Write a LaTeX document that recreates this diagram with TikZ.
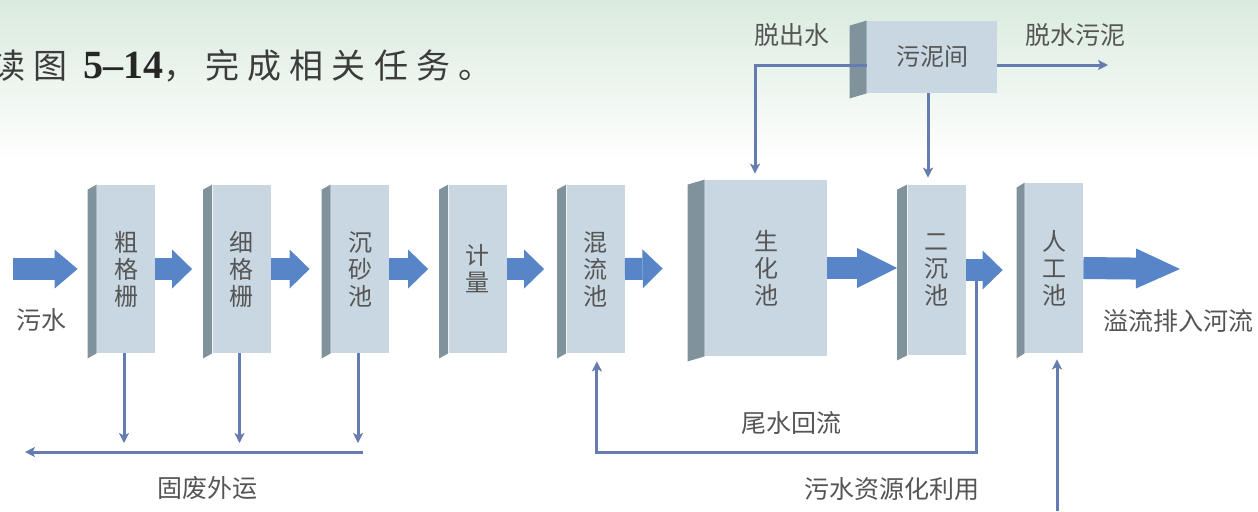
\documentclass[tikz,border=0pt]{standalone}
\usepackage{fontspec}
\usepackage{xcolor}
\usetikzlibrary{arrows.meta,positioning,calc}
\newfontfamily\cjk{Noto Sans CJK SC}
\newfontfamily\cjktitle[LetterSpace=24]{Noto Sans CJK SC}
\newfontfamily\numfont{Liberation Serif}
\definecolor{bgtop}{RGB}{218,235,222}
\definecolor{frontc}{RGB}{200,215,225}
\definecolor{sidec}{RGB}{128,146,156}
\definecolor{arrowc}{RGB}{88,133,200}
\definecolor{linec}{RGB}{100,124,176}
\definecolor{textc}{RGB}{85,85,85}

\begin{document}
\begin{tikzpicture}[
    x=0.5pt, y=-0.5pt,
    slab/.style={rectangle, fill=frontc, inner sep=0pt, minimum width=29pt, minimum height=84pt, align=center, text=textc, font=\cjk\fontsize{12pt}{13.5pt}\selectfont},
    sideface/.style={fill=sidec},
    lbl/.style={inner sep=0pt, text=textc, font=\cjk\fontsize{12.5pt}{14pt}\selectfont},
    flow/.style={draw=linec, line width=1.5pt, -{Stealth[length=5pt,width=5pt,inset=1.2pt]}},
    bigarrow/.style={draw=arrowc, line width=11pt, -{Triangle[length=10pt,width=19.5pt,line width=0pt]}}
]
    \useasboundingbox (0,0) rectangle (1258,511);
    \clip (0,0) rectangle (1258,511);
    \fill[white] (0,0) rectangle (1258,511);
    \shade[top color=bgtop, bottom color=white] (0,0) rectangle (1258,160);

    \node[anchor=west, inner sep=0pt, text={rgb,255:red,60;green,60;blue,60}, font=\cjktitle\fontsize{17pt}{20pt}\selectfont] (title) at (-9,66)
        {读图 {\numfont\bfseries\fontsize{20pt}{20pt}\selectfont\color{black!85}5–14}，完成相关任务。};

    % process units
    \node[slab] (cg)  at (126,269)   {粗\\格\\栅};
    \node[slab] (xg)  at (241.5,269) {细\\格\\栅};
    \node[slab] (csc) at (360,269)   {沉\\砂\\池};
    \node[slab] (jl)  at (477.5,269) {计\\量};
    \node[slab] (hl)  at (595.5,269) {混\\流\\池};
    \node[slab, minimum width=61pt, minimum height=88pt] (sh) at (766,268) {生\\化\\池};
    \node[slab, minimum height=85pt] (ec) at (936.5,270) {二\\沉\\池};
    \node[slab, minimum height=85pt] (rg) at (1054,268) {人\\工\\池};
    \node[slab, minimum width=65pt, minimum height=36pt] (wn) at (932,57) {污泥间};

    \foreach \n/\d in {cg/9,xg/9,csc/9,jl/9,hl/9,sh/17,ec/10,rg/8,wn/17}
        \fill[sideface] (\n.north west) -- ++(-\d,5) -- ([shift={(-\d,5)}]\n.south west) -- (\n.south west) -- cycle;

    \coordinate (in) at (13,269);
    \coordinate (out) at (1180,269);
    \coordinate (sludge) at (1108,65);
    \coordinate (waste) at (25,452);
    \coordinate (ret) at (976,452);
    \coordinate (reuse) at (1057,511);

    % thin connectors
    \draw[flow, shorten >=3pt] ([yshift=-4pt]wn.west) -| ([xshift=-5.5pt]sh.north);
    \draw[flow, shorten >=3.5pt] ([xshift=-2pt]wn.south) -- ([xshift=-2pt]wn.south |- ec.north);
    \draw[flow] ([yshift=-4pt]wn.east) -- (sludge);
    \foreach \n in {cg,xg,csc}
        \draw[flow, shorten >=4.5pt] ([xshift=-1pt]\n.south) -- ([xshift=-1pt]\n.south |- waste);
    \draw[flow] ([xshift=1.5pt]csc.south |- waste) -- (waste);
    \draw[flow, shorten >=4pt] (ec.east -| ret) -- (ret) -| ([xshift=0.7pt]hl.south);
    \draw[flow, shorten >=3pt] (reuse) -- (reuse |- rg.south);

    % main flow
    \draw[bigarrow, -{Triangle[length=11.5pt,width=19.5pt,line width=0pt]}, shorten >=9.5pt] (in) -- (cg.west);
    \draw[bigarrow, shorten >=10pt] (cg.east) -- (xg.west);
    \draw[bigarrow, shorten >=10.5pt] (xg.east) -- (csc.west);
    \draw[bigarrow, shorten >=10pt] (csc.east) -- (jl.west);
    \draw[bigarrow, shorten >=11pt] (jl.east) -- (hl.west);
    \draw[bigarrow, shorten >=21pt] (hl.east) -- (sh.west);
    \draw[bigarrow, -{Triangle[length=20pt,width=20pt,line width=0pt]}, shorten >=5pt] (sh.east) -- (ec.west |- sh.east);
    \draw[bigarrow, shorten >=11pt] (ec.east) -- (rg.west |- ec.east);
    \draw[bigarrow, -{Triangle[length=22pt,width=20pt,line width=0pt]}] (rg.east) -- (out);

    % labels
    \node[lbl] (lwsin)  at (42,320)   {污水};
    \node[lbl] (lriver) at (1178,321) {溢流排入河流};
    \node[lbl] (lwaste) at (207,488)  {固废外运};
    \node[lbl] (lret)   at (791,423)  {尾水回流};
    \node[lbl] (lreuse) at (892,489)  {污水资源化利用};
    \node[lbl] (lwater) at (792,35)   {脱出水};
    \node[lbl] (lsludge) at (1075,35) {脱水污泥};
\end{tikzpicture}
\end{document}
